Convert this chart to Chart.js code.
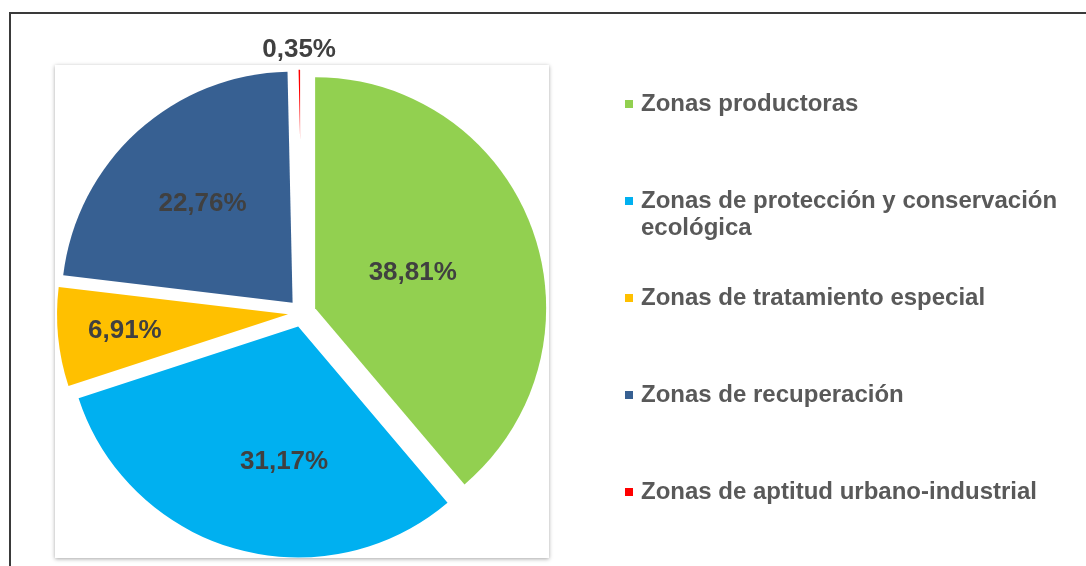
<!DOCTYPE html>
<html>
<head>
<meta charset="utf-8">
<script src="https://cdn.jsdelivr.net/npm/chart.js@4.4.1/dist/chart.umd.min.js"></script>
<style>
    html, body { margin: 0; padding: 0; background: #fff; overflow: hidden; }
    #frame { position: absolute; left: 9px; top: 12px; width: 1200px; height: 700px;
             border-left: 2px solid #3a3a3a; border-top: 2px solid #3a3a3a; }
    #plotBox { position: absolute; left: 55px; top: 65px; width: 494px; height: 493px;
               background: #fff; box-shadow: 0 1px 4px rgba(0, 0, 0, 0.35); }
    #wrap { position: absolute; left: 0; top: 0; width: 1086px; height: 566px; }
</style>
</head>
<body>
<div id="frame"></div>
<div id="plotBox"></div>
<div id="wrap"><canvas id="zonasChart"></canvas></div>
<script>
    'use strict';

    const zoneLabels = [
        'Zonas productoras',
        'Zonas de protección y conservación ecológica',
        'Zonas de tratamiento especial',
        'Zonas de recuperación',
        'Zonas de aptitud urbano-industrial'
    ];
    const zoneShares = [38.81, 31.17, 6.91, 22.76, 0.35];
    const zoneColors = ['#92D050', '#00B0F0', '#FFC000', '#376092', '#FF0000'];

    const FONT = '"Liberation Sans", Arial, sans-serif';

    function formatShare(v) {
        return v.toFixed(2).replace('.', ',') + '%';
    }

    // exploded slice: plain translation, no radius growth
    class ExplodedArc extends Chart.ArcElement {
        draw(ctx) {
            const o = this.options;
            const mid = (this.startAngle + this.endAngle) / 2;
            const shift = o.offset || 0;
            const cx = this.x + Math.cos(mid) * shift;
            const cy = this.y + Math.sin(mid) * shift;
            ctx.save();
            ctx.beginPath();
            ctx.moveTo(cx, cy);
            ctx.arc(cx, cy, this.outerRadius, this.startAngle, this.endAngle);
            ctx.closePath();
            ctx.fillStyle = o.backgroundColor;
            ctx.fill();
            if (o.borderWidth > 0) {
                ctx.lineWidth = o.borderWidth;
                ctx.strokeStyle = o.borderColor;
                ctx.lineJoin = 'round';
                ctx.stroke();
            }
            ctx.restore();
        }
    }
    ExplodedArc.id = 'explodedArc';
    Chart.register(ExplodedArc);
    Chart.defaults.datasets.pie.dataElementType = 'explodedArc';

    const sliceLabels = {
        id: 'sliceLabels',
        afterDatasetsDraw(chart, args, opts) {
            const ctx = chart.ctx;
            const meta = chart.getDatasetMeta(0);
            const values = chart.data.datasets[0].data;
            ctx.save();
            ctx.font = 'bold 26px ' + FONT;
            ctx.fillStyle = opts.color;
            ctx.textAlign = 'center';
            ctx.textBaseline = 'middle';
            meta.data.forEach((arc, i) => {
                const ang = arc.startAngle + (arc.endAngle - arc.startAngle) * opts.along[i];
                const dist = (arc.options.offset || 0) + arc.outerRadius * opts.radial[i];
                ctx.fillText(formatShare(values[i]),
                    arc.x + Math.cos(ang) * dist,
                    arc.y + Math.sin(ang) * dist);
            });
            ctx.restore();
        }
    };

    const sideLegend = {
        id: 'sideLegend',
        afterDraw(chart, args, opts) {
            const ctx = chart.ctx;
            const colors = chart.data.datasets[0].backgroundColor;
            ctx.save();
            ctx.font = 'bold 24px ' + FONT;
            ctx.textAlign = 'left';
            ctx.textBaseline = 'middle';
            chart.data.labels.forEach((label, i) => {
                const y = opts.top + i * opts.step;
                ctx.fillStyle = colors[i];
                ctx.fillRect(opts.x, y - 4, 8, 8);

                // simple word wrap
                const lines = [];
                let line = '';
                label.split(' ').forEach(word => {
                    const test = line ? line + ' ' + word : word;
                    if (line && ctx.measureText(test).width > opts.maxWidth) {
                        lines.push(line);
                        line = word;
                    } else {
                        line = test;
                    }
                });
                lines.push(line);

                ctx.fillStyle = opts.color;
                lines.forEach((t, k) => {
                    ctx.fillText(t, opts.x + 16, y + k * opts.lineHeight);
                });
            });
            ctx.restore();
        }
    };

    new Chart(document.getElementById('zonasChart'), {
        type: 'pie',
        data: {
            labels: zoneLabels,
            datasets: [{
                data: zoneShares,
                backgroundColor: zoneColors,
                borderColor: '#ffffff',
                borderWidth: [0, 0, 0, 0, 3.5],
                offset: 14,
                radius: 231
            }]
        },
        options: {
            responsive: true,
            maintainAspectRatio: false,
            animation: false,
            layout: { padding: { left: 0, right: 482, top: 60, bottom: 0 } },
            plugins: {
                legend: { display: false },
                tooltip: { enabled: false },
                sliceLabels: {
                    color: '#404040',
                    radial: [0.45, 0.59, 0.71, 0.58, 1.08],
                    along: [0.5, 0.42, 0.5, 0.5, 0.5]
                },
                sideLegend: { x: 625, top: 104, step: 97, lineHeight: 27, maxWidth: 430, color: '#595959' }
            }
        },
        plugins: [sliceLabels, sideLegend]
    });
</script>
</body>
</html>
